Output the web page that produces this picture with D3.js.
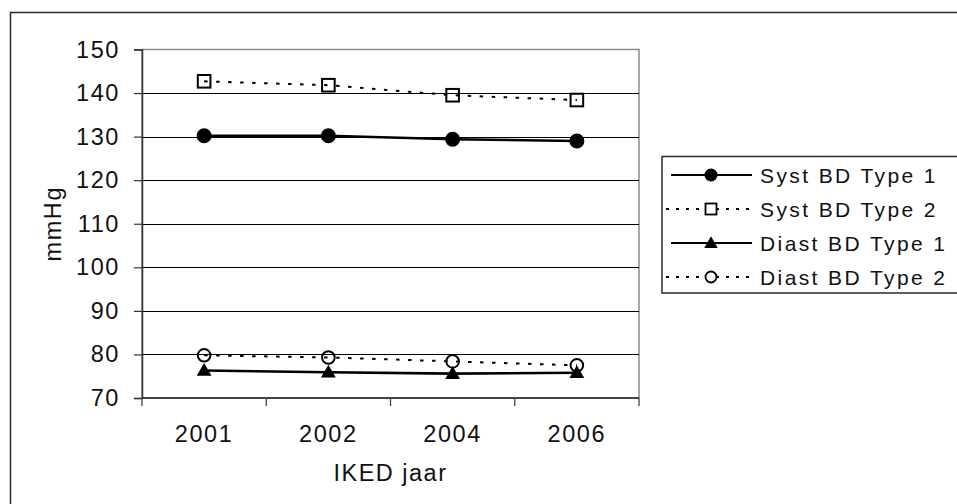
<!DOCTYPE html>
<html>
<head>
<meta charset="utf-8">
<script src="https://cdn.jsdelivr.net/npm/d3@7"></script>
<style>
  html, body { margin: 0; padding: 0; background: #fff; }
  svg { display: block; font-family: "Liberation Sans", Arial, sans-serif; }
</style>
</head>
<body>
<svg id="chart" width="957" height="504"></svg>
<script>
// Blood pressure per IKED year
const categories = ["2001", "2002", "2004", "2006"];
const systType1 = [130.2, 130.2, 129.4, 129.0];
const systType2 = [142.7, 141.8, 139.5, 138.4];
const diastType1 = [76.3, 75.9, 75.6, 75.8];
const diastType2 = [79.8, 79.3, 78.4, 77.5];
const yTicks = [70, 80, 90, 100, 110, 120, 130, 140, 150];

const seriesNames = ["Syst BD Type 1", "Syst BD Type 2", "Diast BD Type 1", "Diast BD Type 2"];
const seriesValues = [systType1, systType2, diastType1, diastType2];
const seriesStyle = [
  { dash: null, marker: "circle" },
  { dash: "3.5,8.5", marker: "square" },
  { dash: null, marker: "triangle" },
  { dash: "3.5,8.5", marker: "ring" }
];
const series = seriesNames.map((name, i) => ({ name, values: seriesValues[i], ...seriesStyle[i] }));

const svg = d3.select("#chart");

const plot = { left: 142, right: 639, top: 49.5, bottom: 398 };

const x = d3.scaleBand().domain(categories).range([plot.left, plot.right]);
const y = d3.scaleLinear().domain([70, 150]).range([plot.bottom, plot.top]);

// outer chart frame
svg.append("rect")
  .attr("x", 10.5).attr("y", 12.5)
  .attr("width", 1000).attr("height", 600)
  .attr("fill", "none").attr("stroke", "#2a2a2a").attr("stroke-width", 1.5);

// plot area border (top / right in grey)
svg.append("rect")
  .attr("x", plot.left).attr("y", plot.top)
  .attr("width", plot.right - plot.left).attr("height", plot.bottom - plot.top)
  .attr("fill", "none").attr("stroke", "#8a8a8a").attr("stroke-width", 1.5);

// horizontal gridlines
svg.append("g")
  .selectAll("line")
  .data(yTicks.filter(t => t > 70 && t < 150))
  .join("line")
  .attr("x1", plot.left).attr("x2", plot.right)
  .attr("y1", d => Math.round(y(d)) + 0.5).attr("y2", d => Math.round(y(d)) + 0.5)
  .attr("stroke", "#000").attr("stroke-width", 1);

// y axis
const yAxis = d3.axisLeft(y).tickValues(yTicks).tickSize(8).tickPadding(14);
const gy = svg.append("g").attr("transform", `translate(${plot.left},0)`).call(yAxis);
gy.select(".domain").attr("stroke", "#333").attr("stroke-width", 1.5);
gy.selectAll(".tick line").attr("stroke", "#333").attr("stroke-width", 1.2);
gy.selectAll(".tick text")
  .attr("font-size", 23.5).attr("fill", "#111")
  .style("font-family", "'Liberation Sans', Arial, sans-serif")
  .style("letter-spacing", "1.6px");

// x axis with ticks at band boundaries
const gx = svg.append("g").attr("transform", `translate(0,${plot.bottom})`);
gx.append("line")
  .attr("x1", plot.left).attr("x2", plot.right)
  .attr("y1", 0).attr("y2", 0)
  .attr("stroke", "#222").attr("stroke-width", 1.5);
const bounds = categories.map(c => x(c)).concat([plot.right]);
gx.selectAll("line.tick")
  .data(bounds)
  .join("line")
  .attr("class", "tick")
  .attr("x1", d => d).attr("x2", d => d)
  .attr("y1", 0).attr("y2", 8)
  .attr("stroke", "#444").attr("stroke-width", 1.3);
gx.selectAll("text")
  .data(categories)
  .join("text")
  .attr("x", d => x(d) + x.bandwidth() / 2)
  .attr("y", 44)
  .attr("text-anchor", "middle")
  .attr("font-size", 23.5)
  .attr("fill", "#111")
  .style("letter-spacing", "1.6px")
  .text(d => d);

// axis titles
svg.append("text")
  .attr("x", (plot.left + plot.right) / 2)
  .attr("y", 481)
  .attr("text-anchor", "middle")
  .attr("font-size", 23.5)
  .attr("fill", "#111")
  .style("letter-spacing", "1.5px")
  .text("IKED jaar");

svg.append("text")
  .attr("transform", `translate(61,${(plot.top + plot.bottom) / 2}) rotate(-90)`)
  .attr("text-anchor", "middle")
  .attr("font-size", 23.5)
  .attr("fill", "#111")
  .style("letter-spacing", "1.6px")
  .text("mmHg");

// marker drawing
function drawMarker(g, type) {
  if (type === "circle") {
    g.append("circle").attr("r", 7.5).attr("fill", "#000");
  } else if (type === "square") {
    g.append("rect").attr("x", -6.3).attr("y", -6.3).attr("width", 12.6).attr("height", 12.6)
      .attr("fill", "none").attr("stroke", "#000").attr("stroke-width", 2);
  } else if (type === "triangle") {
    g.append("path").attr("d", d3.symbol().type(d3.symbolTriangle).size(95)())
      .attr("transform", "translate(0,1)")
      .attr("fill", "#000");
  } else if (type === "ring") {
    g.append("circle").attr("r", 6.3).attr("fill", "none").attr("stroke", "#000").attr("stroke-width", 2);
  }
}

const line = d3.line()
  .x((d, i) => x(categories[i]) + x.bandwidth() / 2)
  .y(d => y(d));

// series lines and markers
series.forEach(s => {
  const g = svg.append("g");
  g.append("path")
    .datum(s.values)
    .attr("d", line)
    .attr("fill", "none")
    .attr("stroke", "#000")
    .attr("stroke-width", s.dash ? 2 : 2.6)
    .attr("stroke-dasharray", s.dash);
  s.values.forEach((v, i) => {
    const m = g.append("g")
      .attr("transform", `translate(${x(categories[i]) + x.bandwidth() / 2},${y(v)})`);
    drawMarker(m, s.marker);
  });
});

// legend
const legend = svg.append("g");
legend.append("rect")
  .attr("x", 662).attr("y", 156.5)
  .attr("width", 400).attr("height", 136.5)
  .attr("fill", "#fff").attr("stroke", "#2a2a2a").attr("stroke-width", 1.5);

const rowY = d3.scalePoint().domain(seriesNames).range([175, 277]);
series.forEach(s => {
  const cy = rowY(s.name);
  const row = legend.append("g");
  row.append("line")
    .attr("x1", s.dash ? 666 : 671).attr("x2", 752)
    .attr("y1", cy).attr("y2", cy)
    .attr("stroke", "#000")
    .attr("stroke-width", s.dash ? 1.8 : 2.2)
    .attr("stroke-dasharray", s.dash ? "3,7" : null);
  const m = row.append("g").attr("transform", `translate(711,${cy})`);
  if (s.marker === "circle") m.append("circle").attr("r", 6.5).attr("fill", "#000");
  else if (s.marker === "square") m.append("rect").attr("x", -5.5).attr("y", -5.5).attr("width", 11).attr("height", 11)
    .attr("fill", "#fff").attr("stroke", "#000").attr("stroke-width", 1.8);
  else if (s.marker === "triangle") m.append("path").attr("d", d3.symbol().type(d3.symbolTriangle).size(80)())
    .attr("transform", "translate(0,1)").attr("fill", "#000");
  else m.append("circle").attr("r", 5.5).attr("fill", "#fff").attr("stroke", "#000").attr("stroke-width", 1.8);
  row.append("text")
    .attr("x", 760)
    .attr("y", cy + 7.5)
    .attr("font-size", 21)
    .attr("fill", "#111")
    .style("letter-spacing", "2.4px")
    .text(s.name);
});
</script>
</body>
</html>
